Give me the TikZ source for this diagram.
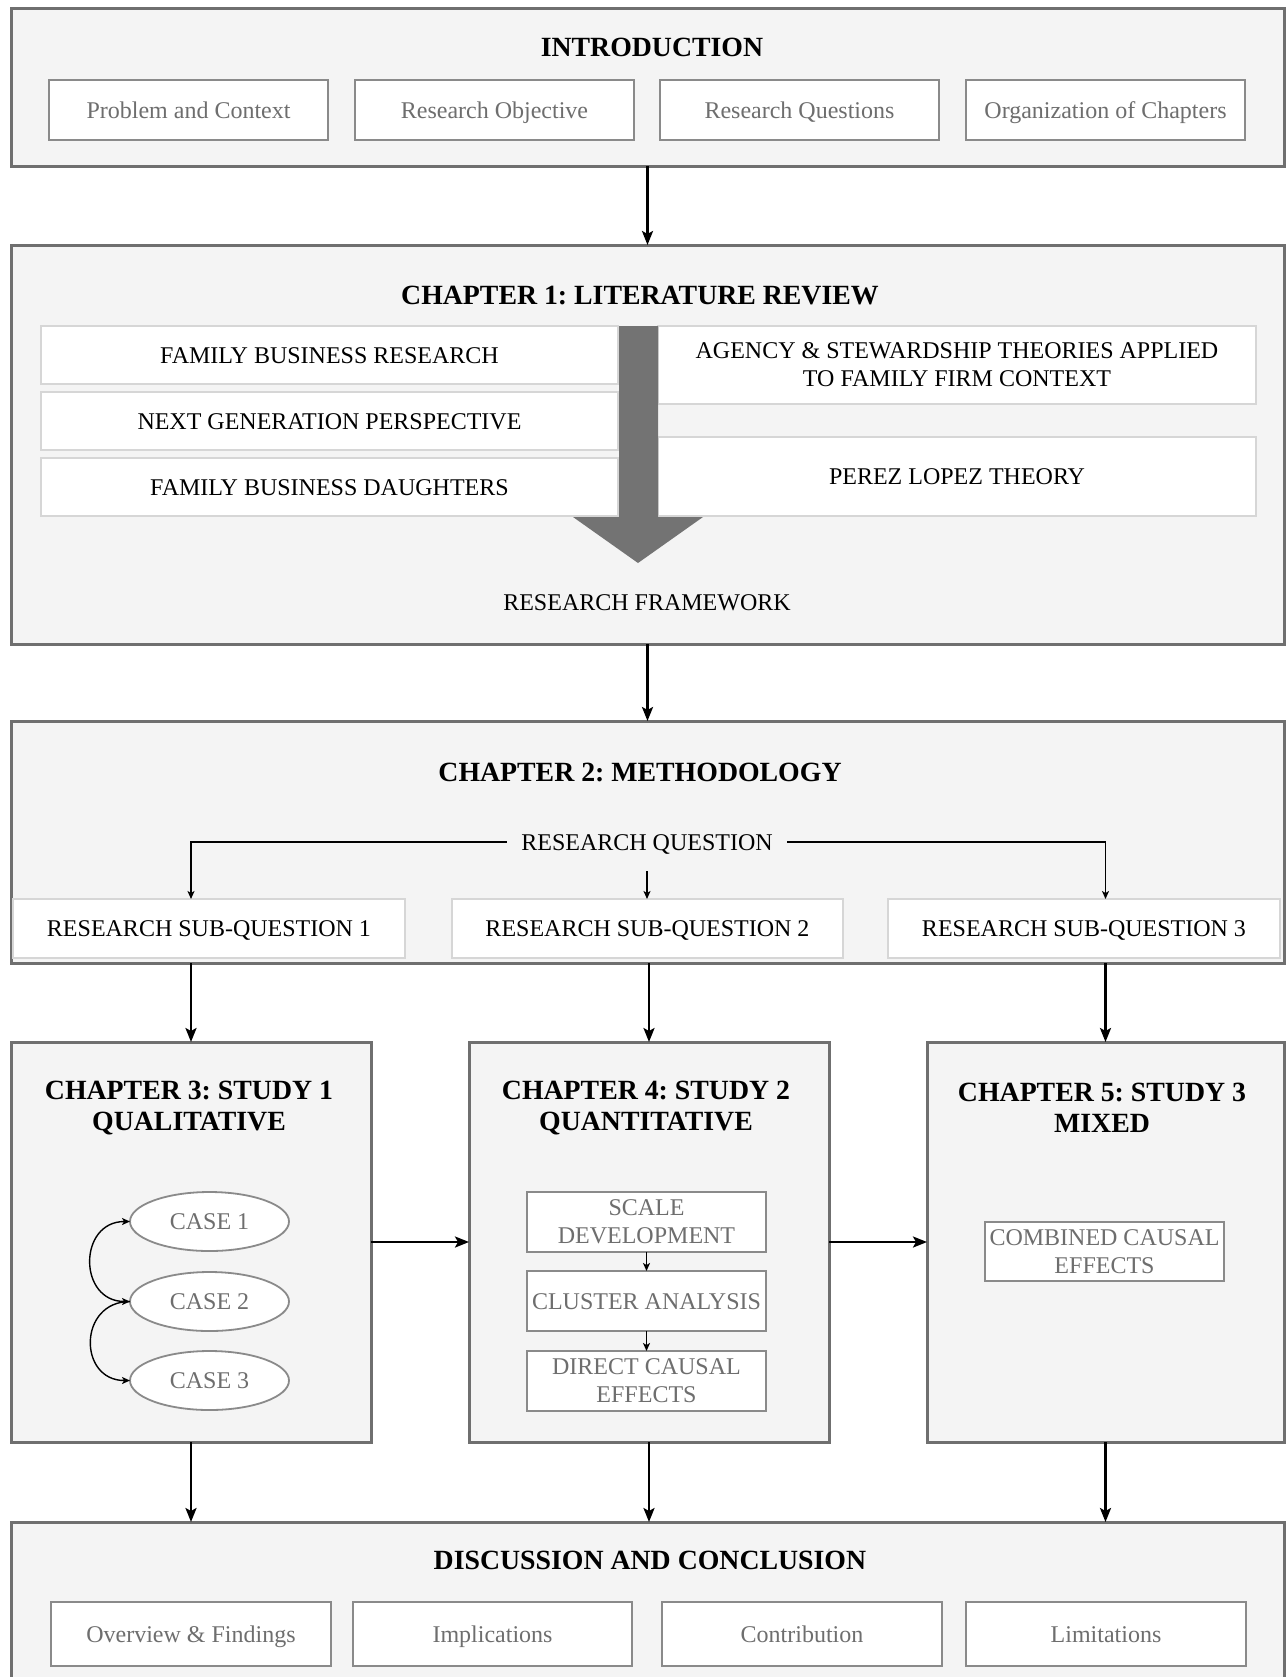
\documentclass[tikz,border=0pt]{standalone}
\usepackage{fontspec}
\setmainfont{Liberation Serif}
\usetikzlibrary{arrows.meta,shapes.geometric,calc}
\frenchspacing
\definecolor{panelfill}{HTML}{F4F4F4}
\definecolor{panelline}{HTML}{6F6F6F}
\definecolor{itemline}{HTML}{8A8A8A}
\definecolor{itemtext}{HTML}{6E6E6E}
\definecolor{lightline}{HTML}{D6D6D6}
\definecolor{bigarrow}{HTML}{737373}
% box from corner (x1,y1) to (x2,y2), in pixel-like units
\newcommand\panelbox[7]{\node[#1, minimum width={(#5-#3)*0.5pt}, minimum height={(#6-#4)*0.5pt}] (#2) at ({(#3+#5)/2},{(#4+#6)/2}) {#7};}
\begin{document}
\begin{tikzpicture}[x=0.5pt,y=-0.5pt,
  panel/.style={draw=panelline,line width=1.5pt,fill=panelfill,inner sep=0pt,outer sep=0pt},
  oneline/.style={text height=10.5pt,text depth=2.5pt},
  item/.style={draw=itemline,line width=1pt,fill=white,text=itemtext,inner sep=0pt,outer sep=0pt,oneline,font=\fontsize{12}{14}\selectfont},
  litem/.style={draw=lightline,line width=1pt,fill=white,text=black,inner sep=0pt,outer sep=0pt,align=center,font=\fontsize{12}{14}\selectfont},
  gitem/.style={draw=itemline,line width=0.9pt,fill=white,text=itemtext,inner sep=0pt,outer sep=0pt,align=center,font=\fontsize{12}{14}\selectfont},
  case/.style={ellipse,draw=itemline,line width=0.9pt,fill=white,text=itemtext,inner sep=0pt,outer sep=0pt,minimum width=79.5pt,minimum height=29.5pt,oneline,font=\fontsize{12}{14}\selectfont},
  title/.style={font=\bfseries\fontsize{13.9}{15.5}\selectfont,align=center,inner sep=0pt},
  plain/.style={font=\fontsize{12}{14}\selectfont,inner sep=0pt,oneline},
  arr/.style={-{Stealth[length=7pt,width=5.5pt,inset=1.5pt]},line width=1.2pt},
  thinarr/.style={-{Stealth[length=4pt,width=3.5pt,inset=1pt]},line width=0.7pt},
]
\path[use as bounding box] (0,0) rectangle (1286,1677);
\clip (0,0) rectangle (1286,1677);

% ---------- Introduction ----------
\panelbox{panel}{intro}{11}{8}{1284}{166}{}
\node[title] (introT) at (652,47) {INTRODUCTION};
\panelbox{item}{i1}{49}{80}{328}{140}{Problem and Context}
\panelbox{item}{i2}{355}{80}{634}{140}{Research Objective}
\panelbox{item}{i3}{660}{80}{939}{140}{Research Questions}
\panelbox{item}{i4}{966}{80}{1245}{140}{Organization of Chapters}

% ---------- Chapter 1 ----------
\panelbox{panel}{ch1}{11}{245}{1284}{644}{}
\node[title] (ch1T) at (640,295) {CHAPTER 1: LITERATURE REVIEW};
\panelbox{litem,oneline}{l1}{41}{326}{618}{384}{FAMILY BUSINESS RESEARCH}
\panelbox{litem,oneline}{l2}{41}{392}{618}{450}{NEXT GENERATION PERSPECTIVE}
\panelbox{litem,oneline}{l3}{41}{458}{618}{516}{FAMILY BUSINESS DAUGHTERS}
\panelbox{litem}{r1}{658}{326}{1256}{404}{AGENCY \& STEWARDSHIP THEORIES APPLIED\\TO FAMILY FIRM CONTEXT}
\panelbox{litem,oneline}{r2}{658}{437}{1256}{516}{PEREZ LOPEZ THEORY}
\fill[bigarrow] (619,326) -- (658,326) -- (658,517) -- (703,517) -- (638,563)
  -- (573,517) -- (619,517) -- cycle;
\node[plain] (frame) at (647,602) {RESEARCH FRAMEWORK};

% ---------- Chapter 2 ----------
\panelbox{panel}{ch2}{11}{721}{1284}{963}{}
\node[title] (ch2T) at (640,772) {CHAPTER 2: METHODOLOGY};
\node[plain,inner xsep=7pt] (rq) at (647,842) {RESEARCH QUESTION};
\panelbox{litem,oneline}{sq1}{13}{899}{405}{958}{RESEARCH SUB-QUESTION 1}
\panelbox{litem,oneline}{sq2}{452}{899}{843}{958}{RESEARCH SUB-QUESTION 2}
\panelbox{litem,oneline}{sq3}{888}{899}{1280}{958}{RESEARCH SUB-QUESTION 3}

% ---------- Studies ----------
\panelbox{panel}{ch3}{11}{1042}{371}{1442}{}
\panelbox{panel}{ch4}{469}{1042}{829}{1442}{}
\panelbox{panel}{ch5}{927}{1042}{1284}{1442}{}
\node[title] (ch3T) at (189,1108) {CHAPTER 3: STUDY 1\\QUALITATIVE};
\node[title] (ch4T) at (646,1108) {CHAPTER 4: STUDY 2\\QUANTITATIVE};
\node[title] (ch5T) at (1102,1108) {CHAPTER 5: STUDY 3\\MIXED};

\node[case] (c1) at (209.5,1221.5) {CASE 1};
\node[case] (c2) at (209.5,1301.5) {CASE 2};
\node[case] (c3) at (209.5,1380.5) {CASE 3};
\draw[thinarr,{Stealth[length=4pt,width=3.5pt,inset=1pt]}-{Stealth[length=4pt,width=3.5pt,inset=1pt]}]
  (c1.west) to[out=180,in=180,distance=26pt] (c2.west);
\draw[thinarr] (c2.west) to[out=180,in=180,distance=26pt] (c3.west);

\panelbox{gitem}{q1}{527}{1192}{766}{1252}{SCALE\\DEVELOPMENT}
\panelbox{gitem,oneline}{q2}{527}{1271}{766}{1331}{CLUSTER ANALYSIS}
\panelbox{gitem}{q3}{527}{1351}{766}{1411}{DIRECT CAUSAL\\EFFECTS}
\draw[thinarr] (q1) -- (q2);
\draw[thinarr] (q2) -- (q3);

\panelbox{gitem}{m1}{985}{1222}{1224}{1281}{COMBINED CAUSAL\\EFFECTS}

% ---------- Discussion ----------
\panelbox{panel}{disc}{11}{1522}{1284}{1700}{}
\node[title] (discT) at (650,1560) {DISCUSSION AND CONCLUSION};
\panelbox{item}{d1}{51}{1602}{331}{1666}{Overview \& Findings}
\panelbox{item}{d2}{353}{1602}{632}{1666}{Implications}
\panelbox{item}{d3}{662}{1602}{942}{1666}{Contribution}
\panelbox{item}{d4}{966}{1602}{1246}{1666}{Limitations}

% ---------- Connectors ----------
\draw[arr] (intro.south) -- (ch1.north);
\draw[arr] (ch1.south) -- (ch2.north);
\draw[thinarr,line width=0.8pt] (rq.west) -| (ch3.north |- sq1.north);
\draw[thinarr,line width=0.8pt] (rq.east) -| (ch5.north |- sq3.north);
\draw[thinarr,line width=0.8pt] ($(rq.south)+(0,16)$) -- (rq.south |- sq2.north);
\draw[arr] (ch3.north |- ch2.south) -- (ch3.north);
\draw[arr] (ch4.north |- ch2.south) -- (ch4.north);
\draw[arr] (ch5.north |- ch2.south) -- (ch5.north);
\draw[arr] (ch3.east) -- (ch4.west);
\draw[arr] (ch4.east) -- (ch5.west);
\draw[arr] (ch3.south) -- (ch3.south |- disc.north);
\draw[arr] (ch4.south) -- (ch4.south |- disc.north);
\draw[arr] (ch5.south) -- (ch5.south |- disc.north);
\end{tikzpicture}
\end{document}
